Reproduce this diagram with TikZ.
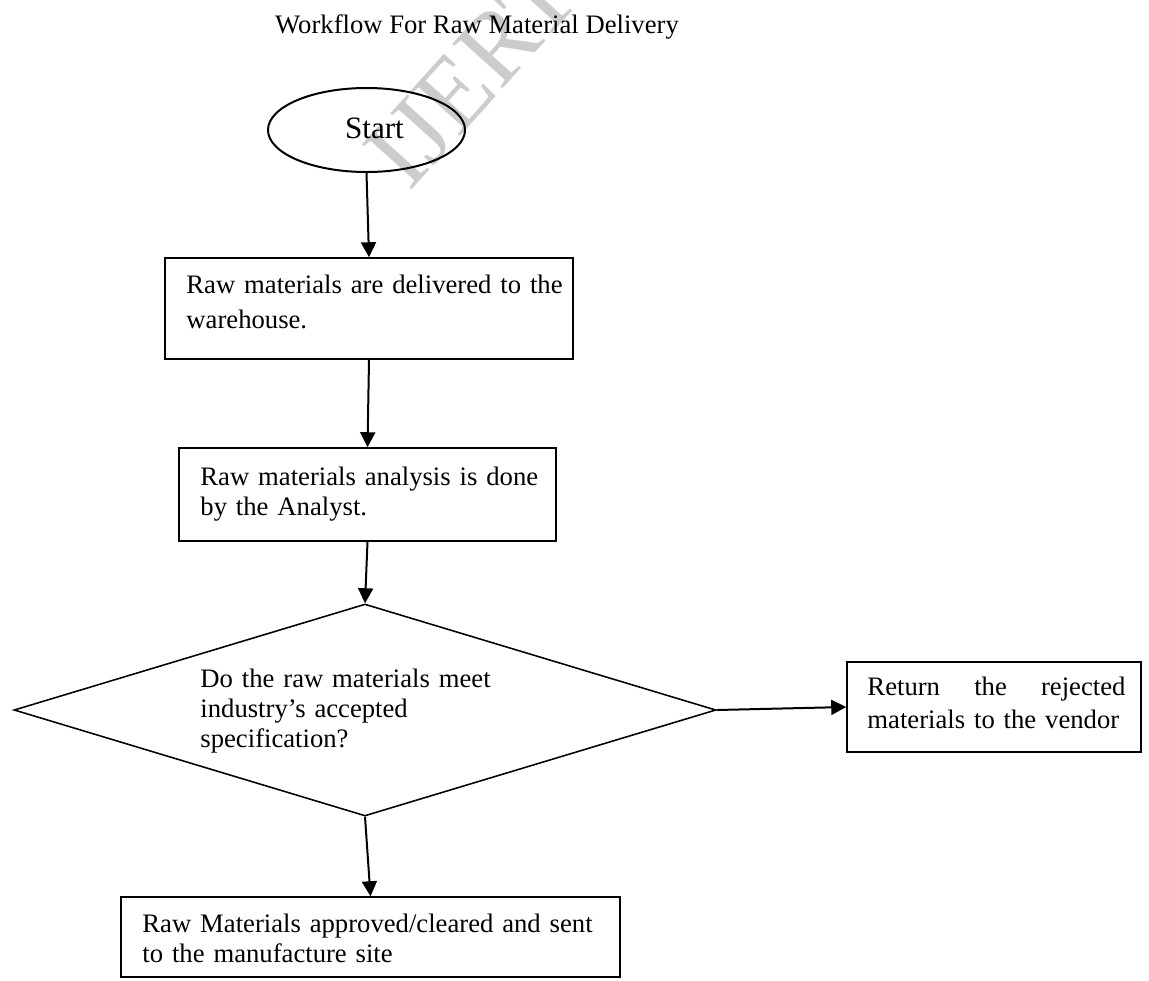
\documentclass[tikz,border=0pt]{standalone}
\usepackage{fontspec}
\setmainfont{Liberation Serif}
\usetikzlibrary{shapes.geometric,arrows.meta,calc}
\begin{document}
\begin{tikzpicture}[x=0.45pt,y=-0.45pt,
  frame/.style={draw,line width=0.7pt,inner sep=0pt},
  boxnode/.style 2 args={frame,rectangle,minimum width=#1*0.45pt,minimum height=#2*0.45pt},
  txt/.style={anchor=base west,inner sep=0pt,text width=300pt,align=left,
    font=\fontsize{12}{13.5}\selectfont},
  flow/.style={-{Triangle[length=6.75pt,width=6.75pt]},line width=0.9pt}]
\useasboundingbox (0,0) rectangle (1149,980);

% faint stamp behind the heading
\node[text=black!20,font=\fontsize{46}{46}\selectfont,rotate=48,inner sep=0pt]
  (stamp) at (472,74) {IJERT};

% heading
\node[anchor=base,inner sep=0pt,font=\fontsize{12}{14}\selectfont]
  (title) at (477,33) {Workflow For Raw Material Delivery};

% start terminal
\node[frame,ellipse,line width=0.9pt,minimum width=197*0.45pt,minimum height=84*0.45pt]
  (start) at (366.5,130) {};
\node[anchor=base,inner sep=0pt,font=\fontsize{14}{16}\selectfont]
  (starttext) at (374.5,138) {Start};

% process steps
\node[boxnode={408}{101}] (b1) at (369,308.5) {};
\node[txt,font=\fontsize{12}{15.75}\selectfont] (b1t) at (186,293)
  {Raw materials are delivered to the\\warehouse.};

\node[boxnode={377}{93}] (b2) at (367.5,494.5) {};
\node[txt] (b2t) at (200,485)
  {Raw materials analysis is done\\by the Analyst.};

% decision
\node[frame,diamond,minimum width=702*0.45pt,minimum height=212*0.45pt]
  (dec) at (365,710) {};
\node[txt] (dect) at (200,687)
  {Do the raw materials meet\\industry’s accepted\\specification?};

% rejection branch
\node[boxnode={294}{90}] (b3) at (994,707) {};
\node[txt,text width=116.1pt,font=\fontsize{12}{14.85}\selectfont] (b3t) at (867,695)
  {Return\hfill the\hfill rejected\\materials to the vendor};

% approval branch
\node[boxnode={499}{80}] (b4) at (370.5,937) {};
\node[txt] (b4t) at (142,932)
  {Raw Materials approved/cleared and sent\\to the manufacture site};

% connectors
\draw[flow] (start.south) -- (b1.north);
\draw[flow] (b1.south) -- (b2.north);
\draw[flow] (b2.south) -- (dec.north);
\draw[flow] (dec.east) -- (b3.west);
\draw[flow] (dec.south) -- (b4.north);
\end{tikzpicture}
\end{document}
